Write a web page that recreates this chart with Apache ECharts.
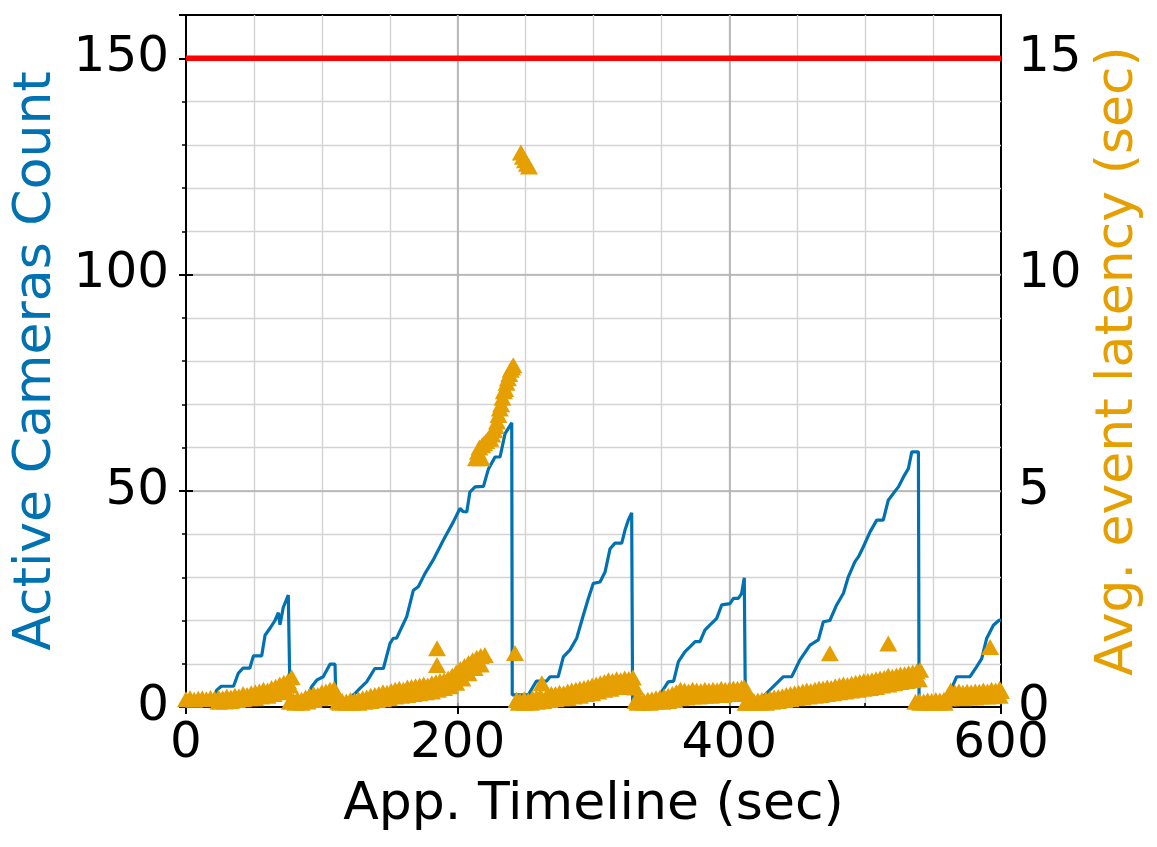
<!DOCTYPE html>
<html>
<head>
<meta charset="utf-8">
<script src="https://cdn.jsdelivr.net/npm/echarts@6/dist/echarts.min.js"></script>
<style>
  html, body { margin: 0; padding: 0; background: #fff; }
  #chart { width: 1157px; height: 847px; }
</style>
</head>
<body>
<div id="chart"></div>
<script>
// active cameras over time  [sec, count]
var cameraCount = [
  [0,1],[10,1],[15,2],[20,2],[22.6,3.9],[26,4.8],[35,4.8],[38.5,7.8],[42,9],[47,9],[49.6,11.8],[55.7,11.8],
  [58.2,16.6],[61.8,18.2],[65.5,20],[68,21.8],[69.2,19],[71.6,23],[75.3,25.9],[76.3,25.9],[76.6,2],[85,2],
  [90,3],[92.5,4.7],[96.2,6.2],[101,7],[103.6,8.5],[106,9.9],[109.7,9.9],[110.3,2],[118,1.5],[124,3],
  [128,4.3],[133,5.8],[139,8.9],[145.3,8.9],[150.2,14.7],[152.6,15.9],[155,15.9],[162.5,20.9],[167.4,27],
  [171,27.8],[176,30.9],[182,34],[189.5,38.6],[196.8,42.8],[201.7,45.9],[204,45.2],[206.7,45.1],[209,49.7],
  [212.8,50.9],[219,51],[222.6,55],[227.5,57.8],[231.2,57.8],[234.9,63.2],[239.8,65.7],[240.2,2.8],[252,2.8],
  [258,6],[265.5,6],[268,7],[274,7],[277.8,11.6],[282.7,13.2],[287.6,15.9],[292.5,21.2],[296.2,25.1],
  [299.9,28.6],[304.8,28.9],[308.5,31.2],[312.2,36.6],[315.8,37.9],[320.8,37.9],[323.2,40.9],[325.6,43.2],
  [328.1,44.9],[328.8,0.8],[340,0.8],[345,2],[350.2,3.5],[355,5.8],[359,6],[362.5,10.5],[367.4,12.8],
  [371,13.9],[374.8,15.1],[378.4,15.1],[382,17.8],[385.8,19],[390.7,20.5],[394.4,23.6],[400.5,23.9],
  [403,25.1],[406.6,25.1],[409,26.2],[411,29.9],[411.8,0.8],[420,1],[424,2],[427.5,3.2],[433.6,5.1],
  [439.8,7],[445.9,7],[452,10.9],[459.4,14.3],[465.5,15.5],[469.2,19.7],[474,20],[479,23.6],[484,26.3],
  [487.6,30.1],[492.5,33.6],[495,34.7],[498.6,37],[503.6,40.5],[508.5,43.2],[513.3,43.2],[517,47.8],
  [520.8,49.4],[524.5,50.9],[528.2,53.2],[531.8,55.1],[534.3,59],[539.2,59],[539.7,0.8],[550,1],[558,2],
  [562.5,3.5],[567.4,7],[577.2,7],[582,9.3],[585.8,11.2],[589.5,15.9],[594.4,18.9],[598.8,20.1],[600,20]
];

// avg event latency  [sec, latency] - upper edge of each run
var latencyA = [
  [0,.18],[3,.2],[6,.17],[9,.19],[12,.2],[15,.18],[18,.21],[21,.19],[24,.22],[27,.2],[30,.24],[33,.22],
  [36,.26],[39,.25],[42,.3],[45,.28],[48,.32],[51,.34],[54,.36],[57,.4],[60,.38],[63,.44],[66,.47],
  [69,.52],[72,.56],[75,.6],[76.5,.5],[77.8,.69]
];
var latencyB = [
  [76.5,.12],[79,.15],[82,.18],[85,.17],[88,.22],[91,.26],[94,.3],[97,.28],[100,.34],[103,.36],[106,.4],
  [109,.42],[111,.3]
];
var latencyC = [
  [112,.12],[115,.14],[118,.13],[121,.16],[124,.15],[127,.18],[130,.2],[133,.22],[136,.26],[139,.28],
  [142,.3],[145,.34],[148,.33],[151,.37],[154,.4],[157,.42],[160,.4],[163,.45],[166,.46],[169,.48],
  [172,.5],[175,.52],[178,.5],[181,.55],[184,.57],[187,.6],[190,.62],[193,.66],[196,.72],[199,.8],
  [202,.88],[205,.95],[208,1.02],[211,1.08],[214,1.14],[217,1.18],[220,1.2]
];
var latencyBurst = [
  [213.5,5.75],[215,5.9],[216,6.0],[217.6,5.75],[218,6.05],[219.5,6.1],[221,6.15],[222.5,6.2],[224,6.2],
  [225.5,6.3],[227,6.4],[228,6.5],[229,6.6],[230,6.75],[231,6.9],[232,7.0],[233,7.15],[234,7.3],
  [235,7.35],[236,7.5],[237,7.6],[238,7.7],[239,7.8],[240,7.85],[241,7.9]
];
var latencySpike = [[246.5,12.82],[248,12.72],[249.5,12.64],[251,12.56],[252.5,12.5]];
var latencyD = [
  [243.5,.16],[246,.14],[249,.18],[252,.15],[255,.2],[258,.22],[261,.25],[262,.55],[266,.28],[269,.3],
  [272,.3],[275,.33],[278,.32],[281,.36],[284,.38],[287,.4],[290,.42],[293,.44],[296,.46],[299,.5],
  [302,.52],[305,.55],[308,.58],[311,.62],[314,.6],[317,.64],[320,.62],[323,.66],[326,.65],[329,.68],
  [331,.45]
];
var latencyE = [
  [331,.14],[334,.15],[337,.14],[340,.17],[343,.18],[346,.2],[349,.22],[352,.24],[355,.26],[358,.3],
  [361,.34],[364,.4],[367,.38],[370,.36],[373,.4],[376,.38],[379,.37],[382,.4],[385,.38],[388,.4],
  [391,.39],[394,.42],[397,.4],[400,.41],[403,.43],[406,.42],[409,.44],[411,.45],[413,.38]
];
var latencyF = [
  [412,.1],[415,.12],[418,.14],[421,.15],[424,.16],[427,.18],[430,.2],[433,.22],[436,.23],[439,.25],
  [442,.28],[445,.3],[448,.32],[451,.33],[454,.36],[457,.38],[460,.37],[463,.4],[466,.42],[469,.43],
  [472,.45],[475,.44],[478,.48],[481,.5],[484,.52],[487,.51],[490,.54],[493,.56],[496,.58],[499,.6],
  [502,.6],[505,.62],[508,.64],[511,.66],[514,.67],[517,.72],[520,.7],[523,.73],[526,.75],[529,.76],
  [532,.78],[535,.8],[538,.82],[540.5,.86]
];
var latencyG = [
  [537,.12],[540,.14],[543,.13],[546,.15],[549,.14],[552,.16],[555,.15],[558,.17],[561,.2],[563,.38],
  [566,.34],[569,.36],[572,.33],[575,.35],[578,.34],[581,.36],[584,.35],[587,.38],[590,.36],[593,.4],
  [596,.38],[599,.42],[600,.37]
];
// lower edge of each run
var latencyLow = [
  [24,.12],[28.5,.13],[33,.14],[37.5,.16],[42,.18],[46.5,.2],[51,.2],[55.5,.24],[60,.26],[64.5,.3],[69,.34],[73.5,.38],
  [80.5,.1],[85,.1],[89.5,.13],[94,.16],[98.5,.2],[103,.22],[107.5,.25],
  [113.5,.1],[118,.1],[122.5,.1],[127,.1],[131.5,.12],[136,.14],[140.5,.16],[145,.18],[149.5,.2],[154,.24],
  [158.5,.26],[163,.28],[167.5,.3],[172,.32],[176.5,.34],[181,.36],[185.5,.4],[190,.44],[194.5,.48],
  [199,.56],[203.5,.66],[208,.78],[212.5,.9],[217,.98],
  [245,.1],[249.5,.1],[254,.1],[258.5,.12],[263,.14],[267.5,.16],[272,.18],[276.5,.2],[281,.2],[285.5,.24],
  [290,.26],[294.5,.3],[299,.32],[303.5,.36],[308,.4],[312.5,.42],[317,.46],[321.5,.46],[326,.5],
  [332.5,.1],[337,.1],[341.5,.1],[346,.12],[350.5,.12],[355,.14],[359.5,.16],[364,.2],[368.5,.22],[373,.24],
  [377.5,.24],[382,.26],[386.5,.26],[391,.28],[395.5,.28],[400,.3],[404.5,.3],[409,.3],
  [413.5,.1],[418,.1],[422.5,.1],[427,.1],[431.5,.12],[436,.14],[440.5,.16],[445,.18],[449.5,.2],[454,.22],
  [458.5,.24],[463,.26],[467.5,.28],[472,.3],[476.5,.32],[481,.34],[485.5,.36],[490,.38],[494.5,.4],
  [499,.42],[503.5,.44],[508,.46],[512.5,.5],[517,.52],[521.5,.55],[526,.58],[530.5,.6],[535,.62],[539.5,.64],
  [540.5,.1],[545,.1],[549.5,.1],[554,.1],[558.5,.1],[563,.2],[567.5,.22],[572,.2],[576.5,.22],[581,.22],
  [585.5,.24],[590,.24],[594.5,.25],[599,.26]
];
var latencyOutliers = [[184.8,1.36],[184.8,0.97],[242.2,1.25],[243.5,0.16],[474,1.24],[517,1.47],[592,1.39]];

var maxCameras = 150;
var timeRange = [0, 600];

var latencyPoints = [].concat(latencyLow, latencyA, latencyB, latencyC, latencyBurst, latencySpike,
  latencyD, latencyE, latencyF, latencyG, latencyOutliers);

var blue = '#0072B2';
var orange = '#E69F00';
var font = 'DejaVu Sans';

var chart = echarts.init(document.getElementById('chart'));

var option = {
  animation: false,
  backgroundColor: '#fff',
  grid: {
    left: 186, right: 156, top: 15, bottom: 140,
    show: true, borderColor: '#000', borderWidth: 2
  },
  xAxis: [
    {
      type: 'value', min: 0, max: 600, interval: 200, z: 1,
      name: 'App. Timeline (sec)', nameLocation: 'middle', nameGap: 72,
      nameTextStyle: { fontFamily: font, fontSize: 52, color: '#000' },
      axisLine: { lineStyle: { color: '#000', width: 2 } },
      axisTick: { length: 7, lineStyle: { color: '#000', width: 2 } },
      axisLabel: { margin: 12, fontFamily: font, fontSize: 50, color: '#000' },
      splitLine: { show: true, showMinLine: false, showMaxLine: false, lineStyle: { color: '#b0b0b0', width: 1.6 } }
    },
    {
      type: 'value', min: 0, max: 600, interval: 50, z: 0,
      axisLine: { show: false },
      axisTick: { length: 4, lineStyle: { color: '#000', width: 1.5 } },
      axisLabel: { show: false },
      splitLine: { show: true, showMinLine: false, showMaxLine: false, lineStyle: { color: '#d3d3d3', width: 1.4 } }
    }
  ],
  yAxis: [
    {
      type: 'value', min: 0, max: 160, interval: 50, z: 1, position: 'left',
      name: 'Active Cameras Count', nameLocation: 'middle', nameGap: 112, nameRotate: 90,
      nameTextStyle: { fontFamily: font, fontSize: 52, color: blue },
      axisLine: { show: true, lineStyle: { color: '#000', width: 2 } },
      axisTick: { show: true, length: 7, lineStyle: { color: '#000', width: 2 } },
      axisLabel: {
        margin: 17, fontFamily: font, fontSize: 50, color: '#000',
        formatter: function (v) { return v % 50 === 0 ? String(v) : ''; }
      },
      splitLine: { show: true, showMinLine: false, showMaxLine: false, lineStyle: { color: '#b0b0b0', width: 1.6 } }
    },
    {
      type: 'value', min: 0, max: 16, interval: 5, z: 1, position: 'right',
      name: 'Avg. event latency (sec)', nameLocation: 'middle', nameGap: 89, nameRotate: 90,
      nameTextStyle: { fontFamily: font, fontSize: 52, color: orange },
      axisLine: { show: true, lineStyle: { color: '#000', width: 2 } },
      axisTick: { show: true, length: 7, lineStyle: { color: '#000', width: 2 } },
      axisLabel: {
        margin: 17, fontFamily: font, fontSize: 50, color: '#000',
        formatter: function (v) { return v % 5 === 0 ? String(v) : ''; }
      },
      splitLine: { show: false }
    },
    {
      type: 'value', min: 0, max: 160, interval: 10, z: 0, position: 'left',
      axisLine: { show: false },
      axisTick: { show: true, length: 4, lineStyle: { color: '#000', width: 1.5 } },
      axisLabel: { show: false },
      splitLine: { show: true, showMinLine: false, showMaxLine: false, lineStyle: { color: '#d3d3d3', width: 1.4 } }
    }
  ],
  series: [
    {
      name: 'Active Cameras',
      type: 'line',
      xAxisIndex: 0, yAxisIndex: 0,
      showSymbol: false,
      lineStyle: { color: blue, width: 3.2 },
      data: cameraCount,
      z: 3
    },
    {
      name: 'Max Cameras',
      type: 'line',
      xAxisIndex: 0, yAxisIndex: 0,
      showSymbol: false,
      lineStyle: { color: '#ff0000', width: 5.5 },
      data: [[timeRange[0], maxCameras], [timeRange[1], maxCameras]],
      z: 3
    },
    {
      name: 'Latency',
      type: 'scatter',
      xAxisIndex: 0, yAxisIndex: 1,
      symbol: 'triangle',
      symbolSize: [18, 16],
      itemStyle: { color: orange, opacity: 1 },
      data: latencyPoints,
      z: 4
    }
  ]
};

chart.setOption(option);
</script>
</body>
</html>
